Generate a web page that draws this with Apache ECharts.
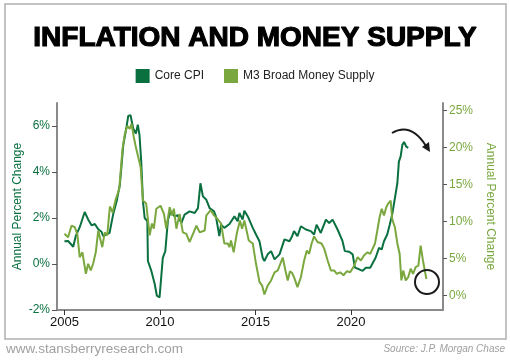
<!DOCTYPE html>
<html><head><meta charset="utf-8">
<script src="https://cdn.jsdelivr.net/npm/echarts@6/dist/echarts.min.js"></script>
<style>html,body{margin:0;padding:0;background:#fff}#c{width:510px;height:361px}</style>
</head><body><div id="c"></div>
<script>
const title = 'INFLATION AND MONEY SUPPLY';
const seriesNames = ['Core CPI', 'M3 Broad Money Supply'];
const xTicks = [2005, 2010, 2015, 2020];
const leftTicks = [-2, 0, 2, 4, 6];
const rightTicks = [0, 5, 10, 15, 20, 25];

const coreCpiYears = [2005.0,2005.19,2005.46,2005.59,2005.80,2006.06,2006.24,2006.42,2006.59,2006.77,2006.94,2007.03,2007.36,2007.55,2007.73,2007.90,2008.08,2008.25,2008.34,2008.46,2008.60,2008.74,2008.84,2008.93,2009.02,2009.11,2009.20,2009.34,2009.37,2009.55,2009.72,2009.84,2009.98,2010.15,2010.28,2010.42,2010.56,2010.77,2010.94,2011.12,2011.29,2011.55,2011.82,2011.99,2012.12,2012.25,2012.43,2012.60,2012.83,2012.93,2013.11,2013.20,2013.37,2013.64,2013.90,2014.07,2014.16,2014.33,2014.42,2014.60,2014.86,2015.03,2015.21,2015.38,2015.47,2015.64,2015.82,2016.00,2016.26,2016.52,2016.78,2016.92,2017.02,2017.20,2017.38,2017.64,2017.90,2018.07,2018.20,2018.42,2018.69,2018.86,2019.04,2019.30,2019.56,2019.68,2019.91,2020.09,2020.21,2020.43,2020.61,2020.78,2021.01,2021.11,2021.29,2021.47,2021.61,2021.73,2021.90,2022.03,2022.16,2022.30,2022.43,2022.51,2022.60,2022.69,2022.78,2022.90,2023.00];
const coreCpi = [0.99,1.0,0.75,1.21,1.6,2.26,1.94,1.68,1.74,1.51,1.4,1.21,1.35,2.16,2.72,3.44,5.17,5.96,6.44,6.47,5.89,5.67,6.06,5.6,4.45,2.72,2.0,1.86,0.13,-0.3,-0.85,-1.38,-1.45,0.27,0.56,1.93,2.29,2.07,2.12,1.78,2.15,2.29,2.22,2.43,3.51,2.94,2.79,2.43,2.29,2.07,1.21,1.71,1.57,1.74,2.07,1.86,2.22,1.93,2.32,2.07,1.57,1.28,0.99,0.27,0.13,0.42,0.56,0.2,0.42,1.07,0.99,1.21,1.43,1.21,1.64,1.5,1.43,1.28,1.71,1.35,1.93,1.78,1.93,1.5,0.99,0.56,0.53,0.42,-0.16,-0.23,-0.3,-0.16,-0.16,-0.23,0.27,0.7,0.63,0.99,1.28,1.71,2.15,2.86,3.51,4.45,4.67,5.17,5.31,5.1,5.05];

const m3Years = [2005.0,2005.10,2005.19,2005.37,2005.54,2005.67,2005.80,2005.94,2006.12,2006.24,2006.38,2006.50,2006.64,2006.77,2006.85,2006.98,2007.11,2007.24,2007.38,2007.52,2007.69,2007.87,2008.04,2008.16,2008.29,2008.42,2008.51,2008.63,2008.74,2008.84,2008.99,2009.11,2009.28,2009.46,2009.58,2009.68,2009.81,2010.03,2010.21,2010.33,2010.51,2010.63,2010.73,2010.86,2011.03,2011.20,2011.38,2011.55,2011.73,2011.91,2012.08,2012.34,2012.43,2012.66,2012.83,2013.02,2013.20,2013.37,2013.55,2013.64,2013.72,2013.86,2014.02,2014.19,2014.30,2014.42,2014.65,2014.86,2015.03,2015.21,2015.35,2015.47,2015.64,2015.82,2016.00,2016.17,2016.43,2016.57,2016.69,2016.81,2016.92,2017.02,2017.20,2017.38,2017.55,2017.69,2017.81,2017.94,2018.07,2018.25,2018.46,2018.60,2018.78,2018.95,2019.12,2019.26,2019.44,2019.61,2019.79,2019.96,2020.17,2020.35,2020.52,2020.69,2020.87,2021.01,2021.11,2021.26,2021.38,2021.50,2021.61,2021.73,2021.85,2021.95,2022.08,2022.16,2022.30,2022.43,2022.55,2022.64,2022.74,2022.87,2023.00,2023.13,2023.25,2023.39,2023.53,2023.65,2023.77,2023.95];
const m3 = [8.3,8.4,7.85,9.4,9.2,8.3,5.15,5.8,2.9,4.25,3.35,4.25,5.8,8.75,8.5,6.5,8.5,8.1,12.0,11.2,13.0,14.4,19.8,21.8,22.9,22.5,23.2,21.4,20.0,20.0,17.3,12.8,12.4,8.1,9.7,9.0,11.7,12.1,11.0,9.0,11.9,10.8,11.7,9.0,11.0,8.5,8.3,7.2,8.3,9.4,8.5,8.75,10.8,11.5,10.8,10.3,9.7,7.0,7.0,6.5,7.4,5.8,8.3,10.1,9.0,10.1,7.4,7.0,4.25,1.8,1.3,0.1,1.3,2.0,3.1,3.35,5.1,3.35,2.0,3.25,3.0,2.45,1.1,2.45,4.7,6.05,5.6,7.0,7.95,7.2,7.0,6.3,4.7,3.35,3.35,2.9,3.1,2.7,3.25,3.1,4.0,5.15,4.7,5.4,5.8,5.6,5.4,7.0,8.75,10.55,11.7,10.8,11.9,12.4,12.8,10.3,9.2,7.0,5.6,2.0,3.35,2.0,2.45,3.6,2.9,3.8,4.0,6.7,4.7,2.2];

const darkGreen = '#0a7040';
const lightGreen = '#7aa83f';
const axisGray = '#8a8a8a';

const chart = echarts.init(document.getElementById('c'));
chart.setOption({
  animation: false,
  backgroundColor: '#fff',
  title: {
    text: title, left: 'center', top: 19,
    textStyle: { fontFamily: 'Liberation Sans', fontWeight: 'bold', fontSize: 28, color: '#000', textBorderColor: '#000', textBorderWidth: 1.2 }
  },
  legend: {
    top: 64, left: 'center', itemWidth: 14, itemHeight: 14, itemGap: 20,
    icon: 'rect',
    textStyle: { fontFamily: 'Liberation Sans', fontSize: 12, color: '#222' },
    data: seriesNames
  },
  grid: { left: 57, right: 67, top: 103, bottom: 51 },
  xAxis: {
    type: 'value', min: 2004.61, max: 2024.82,
    splitLine: { show: false },
    axisLine: { onZero: false, lineStyle: { color: axisGray, width: 2 } },
    axisTick: { customValues: xTicks, length: 5, lineStyle: { color: '#333', width: 1 } },
    axisLabel: { customValues: xTicks, color: '#111', fontFamily: 'Liberation Sans', fontSize: 13, margin: 6, formatter: v => String(v) }
  },
  yAxis: [{
    type: 'value', min: -2, max: 7, position: 'left',
    name: 'Annual Percent Change', nameLocation: 'middle', nameGap: 33, nameMoveOverlap: false,
    nameTextStyle: { color: darkGreen, fontFamily: 'Liberation Sans', fontSize: 12 },
    splitLine: { show: false },
    axisLine: { show: true, onZero: false, lineStyle: { color: axisGray, width: 2 } },
    axisTick: { show: true, customValues: leftTicks, length: 5, lineStyle: { color: '#555', width: 1 } },
    axisLabel: { customValues: leftTicks, color: darkGreen, fontFamily: 'Liberation Sans', fontSize: 12, margin: 7, formatter: v => v + '%' }
  }, {
    type: 'value', min: -2, max: 26, position: 'right',
    name: 'Annual Percent Change', nameLocation: 'middle', nameGap: 41, nameRotate: -90, nameMoveOverlap: false,
    nameTextStyle: { color: lightGreen, fontFamily: 'Liberation Sans', fontSize: 12 },
    splitLine: { show: false },
    axisLine: { show: true, onZero: false, lineStyle: { color: axisGray, width: 2 } },
    axisTick: { show: true, customValues: rightTicks, length: 4, lineStyle: { color: '#555', width: 1 } },
    axisLabel: { customValues: rightTicks, color: lightGreen, fontFamily: 'Liberation Sans', fontSize: 12, margin: 6, formatter: v => v + '%' }
  }],
  series: [{
    name: seriesNames[0], type: 'line', yAxisIndex: 0, showSymbol: false, symbol: 'none',
    itemStyle: { color: darkGreen }, lineStyle: { color: darkGreen, width: 2 },
    data: coreCpiYears.map((y, i) => [y, coreCpi[i]])
  }, {
    name: seriesNames[1], type: 'line', yAxisIndex: 1, showSymbol: false, symbol: 'none',
    itemStyle: { color: lightGreen }, lineStyle: { color: lightGreen, width: 2 },
    data: m3Years.map((y, i) => [y, m3[i]])
  }],
  graphic: [
    { type: 'rect', shape: { x: 5, y: 4, width: 501, height: 335 }, style: { fill: 'none', stroke: '#b0b0b0', lineWidth: 1.5 }, z: 0 },
    { type: 'text', left: 6, top: 342, style: { text: 'www.stansberryresearch.com', fill: '#a0a0a0', font: '13.5px "Liberation Sans"' } },
    { type: 'text', right: 5, top: 344, style: { text: 'Source: J.P. Morgan Chase', fill: '#a0a0a0', font: 'italic 10px "Liberation Sans"' } },
    { type: 'bezierCurve', shape: { x1: 392, y1: 133, cpx1: 411, cpy1: 122, x2: 426, y2: 146 }, style: { fill: 'none', stroke: '#1a1a1a', lineWidth: 2 }, z: 10 },
    { type: 'polygon', shape: { points: [[430, 152], [422, 147], [429, 142]] }, style: { fill: '#1a1a1a' }, z: 10 },
    { type: 'circle', shape: { cx: 427, cy: 282, r: 12 }, style: { fill: 'none', stroke: '#1a1a1a', lineWidth: 2 }, z: 10 }
  ]
});
</script></body></html>
